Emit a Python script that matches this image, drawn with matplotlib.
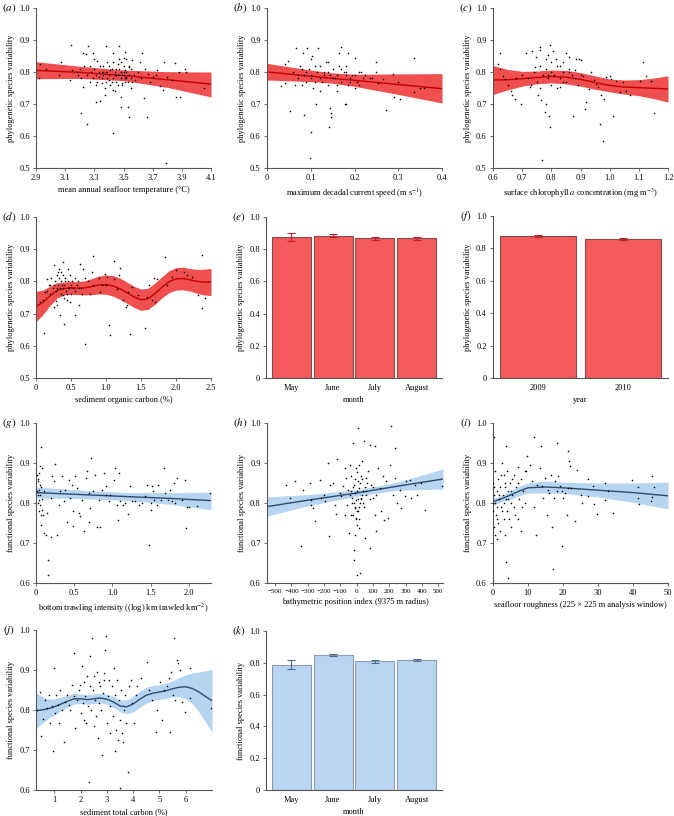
import matplotlib
matplotlib.use('Agg')
import matplotlib.pyplot as plt
from matplotlib.ticker import FuncFormatter

plt.rcParams['font.family'] = ['Liberation Serif', 'DejaVu Serif']
plt.rcParams['mathtext.fontset'] = 'stix'
plt.rcParams['font.size'] = 6

RED_BAND = '#ef4f4f'
RED_LINE = '#c40000'
BLUE_BAND = '#b7d4f1'
BLUE_LINE = '#2c4d70'

# ---- (a) mean annual seafloor temperature ----
a_x = [2.92, 2.93, 2.97, 3.07, 3.06, 3.14, 3.13, 3.15, 3.18, 3.2, 3.21, 3.22, 3.22, 3.24, 3.25, 3.26,
       3.27, 3.29, 3.3, 3.31, 3.32, 3.33, 3.34, 3.35, 3.36, 3.37, 3.38, 3.39, 3.4, 3.41, 3.43, 3.43,
       3.43, 3.45, 3.46, 3.47, 3.48, 3.48, 3.49, 3.5, 3.51, 3.51, 3.52, 3.53, 3.54, 3.54, 3.55, 3.56,
       3.58, 3.61, 3.63, 3.64, 3.66, 3.67, 3.7, 3.73, 3.75, 3.77, 3.78, 3.79, 3.8, 3.83, 3.85, 3.86,
       3.88, 3.89, 3.92, 3.93, 4.05,
       3.31, 3.33, 3.35, 3.36, 3.38, 3.39, 3.4, 3.41, 3.42, 3.43, 3.44, 3.45, 3.46, 3.47, 3.48, 3.48,
       3.49, 3.5, 3.5, 3.51, 3.52, 3.53, 3.54, 3.55, 3.28, 3.27, 3.25, 3.23, 3.21, 3.19, 3.37, 3.44,
       3.47, 3.52, 3.57, 3.6, 3.62, 3.65, 3.68, 3.72,
       3.30, 3.32, 3.34, 3.36, 3.38, 3.40, 3.42, 3.44, 3.46, 3.48, 3.50, 3.52, 3.54, 3.56, 3.31, 3.35,
       3.39, 3.43, 3.47, 3.51, 3.55, 3.29, 3.45, 3.49]
a_y = [0.78, 0.825, 0.81, 0.83, 0.79, 0.885, 0.775, 0.805, 0.8, 0.81, 0.673, 0.858, 0.752, 0.855, 0.638, 0.88,
       0.82, 0.858, 0.84, 0.707, 0.835, 0.785, 0.71, 0.765, 0.8, 0.728, 0.88, 0.83, 0.775, 0.805, 0.61, 0.858,
       0.745, 0.79, 0.825, 0.88, 0.722, 0.69, 0.765, 0.843, 0.864, 0.806, 0.785, 0.69, 0.66, 0.815, 0.75, 0.838,
       0.775, 0.83, 0.858, 0.718, 0.66, 0.795, 0.785, 0.806, 0.755, 0.745, 0.83, 0.515, 0.785, 0.775, 0.827, 0.722,
       0.8, 0.722, 0.81, 0.8, 0.75,
       0.79, 0.8, 0.78, 0.82, 0.77, 0.8, 0.79, 0.76, 0.81, 0.78, 0.8, 0.77, 0.79, 0.81, 0.78, 0.8,
       0.76, 0.79, 0.82, 0.78, 0.8, 0.77, 0.79, 0.81, 0.8, 0.77, 0.79, 0.82, 0.78, 0.79, 0.75, 0.74,
       0.84, 0.84, 0.79, 0.8, 0.78, 0.81, 0.77, 0.79,
       0.81, 0.77, 0.82, 0.79, 0.80, 0.82, 0.77, 0.79, 0.76, 0.83, 0.80, 0.78, 0.82, 0.77, 0.76, 0.80,
       0.78, 0.83, 0.79, 0.77, 0.78, 0.78, 0.81, 0.79]
a_fx = [2.9, 3.2, 3.5, 3.8, 4.1]
a_fit = [0.805, 0.799, 0.789, 0.776, 0.762]
a_hi = [0.832, 0.818, 0.806, 0.801, 0.800]
a_lo = [0.779, 0.780, 0.773, 0.752, 0.722]

# ---- (b) maximum decadal current speed ----
b_x = [0.098, 0.1, 0.085, 0.053, 0.142, 0.146, 0.147, 0.143, 0.113, 0.178, 0.18, 0.273, 0.359, 0.35,
       0.335, 0.303, 0.29, 0.3, 0.254, 0.266, 0.248, 0.25, 0.336, 0.288, 0.033, 0.04, 0.041, 0.048,
       0.067, 0.091, 0.083, 0.103, 0.117, 0.17, 0.164, 0.185, 0.2,
       0.06, 0.07, 0.08, 0.09, 0.1, 0.11, 0.12, 0.13, 0.14, 0.15, 0.16, 0.17, 0.18, 0.19, 0.2, 0.21,
       0.22, 0.065, 0.075, 0.085, 0.095, 0.105, 0.115, 0.125, 0.135, 0.145, 0.155, 0.165, 0.175, 0.185,
       0.195, 0.205, 0.215, 0.225, 0.235, 0.1, 0.12, 0.14, 0.16, 0.18,
       0.07, 0.09, 0.11, 0.13, 0.15, 0.17, 0.19, 0.21, 0.08, 0.12, 0.16, 0.2, 0.24, 0.14, 0.18, 0.1]
b_y = [0.531, 0.614, 0.666, 0.677, 0.627, 0.672, 0.66, 0.688, 0.7, 0.7, 0.7, 0.68, 0.75, 0.75,
       0.736, 0.715, 0.722, 0.77, 0.765, 0.778, 0.8, 0.832, 0.843, 0.793, 0.755, 0.767, 0.824, 0.834,
       0.876, 0.874, 0.86, 0.85, 0.874, 0.878, 0.858, 0.86, 0.843,
       0.8, 0.78, 0.81, 0.77, 0.79, 0.82, 0.78, 0.8, 0.76, 0.81, 0.79, 0.77, 0.8, 0.78, 0.79, 0.76,
       0.78, 0.76, 0.82, 0.79, 0.81, 0.75, 0.8, 0.77, 0.83, 0.79, 0.78, 0.82, 0.8, 0.76,
       0.79, 0.77, 0.8, 0.79, 0.78, 0.84, 0.74, 0.83, 0.74, 0.82,
       0.79, 0.8, 0.77, 0.79, 0.78, 0.81, 0.77, 0.8, 0.76, 0.82, 0.76, 0.75, 0.78, 0.8, 0.79, 0.78]
b_fx = [0, 0.1, 0.15, 0.2, 0.3, 0.4]
b_fit = [0.800, 0.787, 0.780, 0.774, 0.761, 0.748]
b_hi = [0.827, 0.806, 0.797, 0.793, 0.794, 0.795]
b_lo = [0.775, 0.770, 0.765, 0.755, 0.730, 0.703]

# ---- (c) surface chlorophyll a ----
c_x = [0.625, 0.617, 0.623, 0.634, 0.64, 0.651, 0.663, 0.666, 0.674, 0.695, 0.712, 0.726, 0.735, 0.743,
       0.749, 0.754, 0.76, 0.762, 0.766, 0.769, 0.777, 0.783, 0.792, 0.797, 0.794, 0.789, 0.806, 0.817,
       0.829, 0.84, 0.851, 0.86, 0.874, 0.88, 0.886, 0.895, 0.903, 0.909, 0.914, 0.92, 0.929, 0.937,
       0.945, 0.954, 0.96, 0.966, 0.971, 0.977, 0.979, 0.989, 1.0, 1.006, 1.011, 1.023, 1.034, 1.046,
       1.057, 1.069, 1.105, 1.114, 1.126, 1.143, 1.151,
       0.72, 0.74, 0.75, 0.76, 0.77, 0.78, 0.79, 0.8, 0.8, 0.81, 0.82, 0.83, 0.84, 0.85, 0.86, 0.87,
       0.88, 0.89, 0.9, 0.76, 0.78, 0.8, 0.82, 0.84, 0.86, 0.7, 0.68, 0.73, 0.79, 0.83]
c_y = [0.86, 0.826, 0.81, 0.789, 0.779, 0.758, 0.742, 0.727, 0.716, 0.7, 0.86, 0.752, 0.867, 0.815,
       0.847, 0.727, 0.878, 0.87, 0.711, 0.525, 0.674, 0.7, 0.663, 0.627, 0.883, 0.852, 0.867, 0.841,
       0.753, 0.831, 0.859, 0.847, 0.663, 0.805, 0.841, 0.841, 0.836, 0.789, 0.685, 0.706, 0.747, 0.8,
       0.774, 0.763, 0.753, 0.638, 0.727, 0.584, 0.716, 0.784, 0.789, 0.779, 0.664, 0.773, 0.737, 0.768,
       0.742, 0.727, 0.773, 0.831, 0.789, 0.773, 0.672,
       0.78, 0.8, 0.77, 0.82, 0.79, 0.81, 0.78, 0.8, 0.76, 0.79, 0.82, 0.78, 0.8, 0.77, 0.81, 0.79,
       0.78, 0.76, 0.79, 0.75, 0.84, 0.83, 0.75, 0.77, 0.8, 0.79, 0.78, 0.76, 0.79, 0.82]
c_fx = [0.6, 0.65, 0.7, 0.75, 0.8, 0.85, 0.9, 0.95, 1.0, 1.05, 1.1, 1.15, 1.2]
c_fit = [0.775, 0.776, 0.779, 0.783, 0.786, 0.784, 0.777, 0.767, 0.758, 0.753, 0.751, 0.749, 0.747]
c_hi = [0.820, 0.808, 0.802, 0.803, 0.806, 0.805, 0.798, 0.788, 0.778, 0.775, 0.776, 0.781, 0.788]
c_lo = [0.730, 0.744, 0.756, 0.763, 0.766, 0.763, 0.756, 0.746, 0.738, 0.731, 0.726, 0.717, 0.706]

# ---- (d) sediment organic carbon ----
d_x = [0.11, 0.705, 0.395, 0.348, 1.04, 1.06, 1.34, 1.56, 0.81, 1.11, 1.84, 2.37, 2.37, 2.42, 2.32,
       2.23, 2.16, 2.11, 2.0, 1.94, 1.87, 1.73, 1.68, 1.66, 1.7, 1.59, 1.61, 1.45, 1.37, 1.32, 1.3, 1.28,
       1.24, 1.2, 1.18, 1.16, 1.12, 1.01, 0.98, 1.0, 0.92, 0.94, 0.9, 0.82, 0.8, 0.77, 0.74, 0.7, 0.67,
       0.63, 0.64, 0.61, 0.56, 0.49, 0.44, 0.39, 0.3, 0.25, 0.2, 0.16, 0.13, 0.1, 0.06,
       0.15, 0.18, 0.2, 0.22, 0.24, 0.25, 0.27, 0.28, 0.3, 0.3, 0.32, 0.33, 0.35, 0.35, 0.36, 0.38,
       0.38, 0.4, 0.4, 0.42, 0.43, 0.45, 0.45, 0.47, 0.48, 0.5, 0.5, 0.52, 0.53, 0.55, 0.56, 0.58, 0.6,
       0.62, 0.65, 0.28, 0.33, 0.37, 0.41, 0.46, 0.31, 0.26, 0.44, 0.39, 0.34]
d_y = [0.641, 0.607, 0.669, 0.695, 0.666, 0.635, 0.638, 0.655, 0.879, 0.862, 0.875, 0.881, 0.717, 0.748, 0.759,
       0.814, 0.819, 0.829, 0.834, 0.814, 0.788, 0.808, 0.811, 0.741, 0.736, 0.752, 0.788, 0.757, 0.783, 0.767, 0.726, 0.722,
       0.741, 0.843, 0.819, 0.777, 0.808, 0.814, 0.824, 0.788, 0.767, 0.79, 0.811, 0.788, 0.829, 0.762, 0.8, 0.811, 0.84,
       0.855, 0.78, 0.726, 0.695, 0.736, 0.741, 0.757, 0.726, 0.72, 0.788, 0.808, 0.767, 0.741, 0.736,
       0.77, 0.79, 0.76, 0.81, 0.78, 0.85, 0.8, 0.74, 0.82, 0.78, 0.79, 0.84, 0.8, 0.76, 0.83, 0.78,
       0.86, 0.79, 0.75, 0.81, 0.77, 0.8, 0.84, 0.78, 0.82, 0.79, 0.76, 0.8, 0.78, 0.81, 0.77, 0.79, 0.8,
       0.78, 0.76, 0.77, 0.81, 0.79, 0.8, 0.78, 0.83, 0.79, 0.76, 0.82, 0.78]
d_fx = [0, 0.1, 0.2, 0.3, 0.4, 0.5, 0.6, 0.7, 0.8, 0.9, 1.0, 1.1, 1.2, 1.3, 1.4, 1.5, 1.6, 1.7, 1.8,
        1.9, 2.0, 2.1, 2.2, 2.3, 2.4, 2.5]
d_fit = [0.722, 0.735, 0.755, 0.772, 0.778, 0.78, 0.779, 0.78, 0.784, 0.789, 0.79, 0.786, 0.777, 0.765,
         0.752, 0.743, 0.746, 0.762, 0.782, 0.799, 0.808, 0.809, 0.805, 0.8, 0.798, 0.798]
d_hw = [0.047, 0.038, 0.03, 0.024, 0.02, 0.02, 0.02, 0.022, 0.025, 0.028, 0.03, 0.032, 0.033, 0.033,
        0.033, 0.033, 0.033, 0.033, 0.033, 0.034, 0.035, 0.035, 0.035, 0.037, 0.04, 0.042]

# ---- (e) month, phylogenetic ----
e_cat = ['May', 'June', 'July', 'August']
e_val = [0.876, 0.884, 0.867, 0.867]
e_err = [0.025, 0.008, 0.008, 0.008]

# ---- (f) year ----
f_cat = ['2009', '2010']
f_val = [0.878, 0.858]
f_err = [0.005, 0.008]

# ---- (g) bottom trawling intensity ----
g_x = [0.07, 0.05, 0.08, 0.035, 0.013, 0.02, 0.057, 0.035, 0.022, 0.044, 0.057, 0.08, 0.066, 0.07, 0.11,
       0.13, 0.157, 0.157, 0.19, 0.144, 0.2, 0.21, 0.25, 0.23, 0.275, 0.3, 0.32, 0.34, 0.36, 0.38, 0.41,
       0.43, 0.45, 0.47, 0.485, 0.49, 0.515, 0.54, 0.56, 0.57, 0.6, 0.625, 0.65, 0.67, 0.69, 0.7, 0.71,
       0.725, 0.747, 0.77, 0.8, 0.82, 0.84, 0.865, 0.886, 0.91, 0.92, 0.95, 0.97, 1.02, 1.04, 1.06, 1.07,
       1.08, 1.105, 1.14, 1.17, 1.2, 1.23, 1.26, 1.3, 1.345, 1.39, 1.43, 1.455, 1.476, 1.5, 1.51, 1.52,
       1.53, 1.55, 1.585, 1.6, 1.63, 1.67, 1.69, 1.73, 1.76, 1.78, 1.8, 1.825, 1.85, 1.91, 1.95, 1.96,
       1.98, 2.0, 2.11, 2.28,
       0.01, 0.02, 0.03, 0.04, 0.05, 0.06, 0.08, 0.09, 0.1]
g_y = [0.94, 0.892, 0.888, 0.875, 0.871, 0.854, 0.846, 0.833, 0.821, 0.808, 0.796, 0.783, 0.771, 0.746, 0.725,
       0.721, 0.658, 0.619, 0.714, 0.775, 0.813, 0.867, 0.898, 0.854, 0.721, 0.796, 0.829, 0.867, 0.804, 0.833, 0.752,
       0.858, 0.813, 0.846, 0.779, 0.743, 0.867, 0.838, 0.775, 0.767, 0.808, 0.729, 0.863, 0.879, 0.825, 0.752, 0.788,
       0.9125, 0.829, 0.871, 0.739, 0.808, 0.739, 0.833, 0.875, 0.821, 0.842, 0.806, 0.821, 0.858, 0.8875, 0.796, 0.758,
       0.875, 0.806, 0.796, 0.8, 0.7725, 0.842, 0.804, 0.804, 0.796, 0.8, 0.817, 0.846, 0.696, 0.8, 0.783, 0.842,
       0.829, 0.808, 0.796, 0.846, 0.808, 0.8875, 0.825, 0.808, 0.833, 0.804, 0.85, 0.8, 0.8625, 0.808, 0.858, 0.7375,
       0.79, 0.79, 0.793, 0.825,
       0.83, 0.8, 0.86, 0.78, 0.82, 0.84, 0.81, 0.77, 0.83]
g_fx = [0, 0.6, 1.2, 1.8, 2.29]
g_fit = [0.826, 0.821, 0.816, 0.811, 0.806]
g_hi = [0.840, 0.832, 0.826, 0.826, 0.827]
g_lo = [0.813, 0.811, 0.806, 0.796, 0.783]

# ---- (h) bathymetric position index ----
h_x = [-431, -380, -407, -343, -329, -288, -282, -278, -268, -253, -227, -217, -200, -196, -176, -172,
       -166, -145, -135, -125, -119, -104, -94, -84, -73, -69, -63, -57, -53, -47, -43, -37, -33, -29,
       -22, -18, -16, -16, -12, -10, -8, -6, -4, -2, 0, 2, 4, 6, 8, 10, 12, 14, 16, 18, 22, 24, 29, 33,
       39, 45, 49, 55, 59, 70, 80, 84, 90, 100, 110, 115, 121, 131, 141, 151, 162, 168, 182, 192, 203,
       213, 223, 233, 237, 250, 264, 274, 294, 305, 325, 335, 356, 372, 397, 417, 524,
       -40, -30, -20, -10, 0, 10, 20, 30, 40, 50, -25, -5, 15, 35, 60, 80, 100, 120,
       -15, -8, 5, 12, 25, -35, 45, 65]
h_y = [0.846, 0.854, 0.8125, 0.693, 0.833, 0.85, 0.808, 0.796, 0.7875, 0.754, 0.858, 0.8125, 0.821, 0.804, 0.9, 0.717,
       0.846, 0.85, 0.796, 0.7725, 0.91, 0.825, 0.817, 0.842, 0.771, 0.8875, 0.8625, 0.796, 0.833, 0.725, 0.896, 0.771, 0.867, 0.8125,
       0.95, 0.844, 0.683, 0.658, 0.7875, 0.825, 0.721, 0.8875, 0.7625, 0.808, 0.8775, 0.621, 0.746, 0.854, 0.9875, 0.779, 0.838, 0.896, 0.7375, 0.8, 0.625, 0.8667, 0.8125, 0.904,
       0.829, 0.954, 0.7125, 0.8625, 0.821, 0.879, 0.6875, 0.946, 0.846, 0.8125, 0.942, 0.771, 0.729, 0.8875, 0.8375, 0.779, 0.867, 0.758, 0.854, 0.7625, 0.896,
       0.992, 0.821, 0.8625, 0.9375, 0.8, 0.833, 0.7875, 0.817, 0.854, 0.858, 0.8125, 0.846, 0.821, 0.85, 0.783, 0.842,
       0.82, 0.8, 0.84, 0.79, 0.83, 0.81, 0.85, 0.82, 0.8, 0.84, 0.77, 0.76, 0.79, 0.86, 0.83, 0.81, 0.84, 0.82,
       0.8, 0.86, 0.78, 0.76, 0.81, 0.83, 0.79, 0.85]
h_fx = [-550, -300, 0, 250, 530]
h_fit = [0.791, 0.807, 0.825, 0.842, 0.860]
h_hi = [0.815, 0.821, 0.833, 0.852, 0.885]
h_lo = [0.767, 0.793, 0.817, 0.832, 0.835]

# ---- (i) seafloor roughness ----
i_x = [0.2, 3.8, 3.8, 4.2, 11.8, 13.7, 18.4, 17.1, 19.7, 21.5, 21.7, 22, 23.5, 23.9, 25, 25.3, 27.1,
       27.2, 28.7, 28.9, 29.6, 32, 32, 32.9, 34.2, 39.6, 41.3, 41.7, 41.5, 45.5, 45.9, 45.2, 45.5,
       9.2, 9.7, 10.6, 11.1, 11.6, 12.3, 12.7, 13.3, 13.9, 14.4, 14.9, 15.4, 15.8, 16.1, 16.5, 16.8,
       17.3, 17.7, 18.2, 18.7, 19.2, 19.6, 20.1, 20.6, 21.1, 21.5, 22.2,
       0, 0, 0.2, 0.3, 0.5, 0.5, 0.8, 1, 1, 1.2, 1.5, 1.5, 1.8, 2, 2, 2.3, 2.5, 2.8, 3, 3, 3.2, 3.5,
       3.5, 3.8, 4, 4, 4.3, 4.5, 4.8, 5, 5, 5.3, 5.5, 6, 6, 6.5, 7, 7, 7.5, 8, 8, 8.5, 9, 9.5, 0.1,
       0.4, 0.7, 1.1, 1.6, 2.2, 2.7, 3.3, 4.2, 5.2, 6.2, 7.2, 8.2]
i_y = [0.964, 0.943, 0.6525, 0.613, 0.964, 0.943, 0.95, 0.635, 0.692, 0.931, 0.904, 0.892, 0.756, 0.883, 0.821, 0.8, 0.86,
       0.817, 0.842, 0.7975, 0.7725, 0.85, 0.808, 0.831, 0.775, 0.858, 0.839, 0.7975, 0.8125, 0.867, 0.839, 0.804, 0.814,
       0.879, 0.917, 0.896, 0.854, 0.79, 0.721, 0.846, 0.8875, 0.842, 0.8125, 0.8625, 0.771, 0.833, 0.825, 0.871, 0.739,
       0.8125, 0.854, 0.829, 0.867, 0.842, 0.829, 0.8125, 0.825, 0.771, 0.8375, 0.8375,
       0.85, 0.78, 0.82, 0.74, 0.88, 0.8, 0.77, 0.83, 0.71, 0.79, 0.86, 0.75, 0.81, 0.73, 0.84, 0.79, 0.9, 0.82, 0.76, 0.87, 0.8, 0.72,
       0.84, 0.81, 0.78, 0.88, 0.83, 0.76, 0.85, 0.8, 0.74, 0.86, 0.82, 0.79, 0.87, 0.84, 0.76, 0.89, 0.81, 0.73, 0.86, 0.83, 0.8, 0.88, 0.8,
       0.84, 0.72, 0.76, 0.82, 0.87, 0.78, 0.85, 0.81, 0.83, 0.77, 0.85, 0.79]
i_fx = [0, 2.5, 5, 7.5, 10, 15, 20, 30, 40, 50]
i_fit = [0.803, 0.811, 0.820, 0.830, 0.838, 0.840, 0.838, 0.832, 0.826, 0.818]
i_hi = [0.811, 0.819, 0.830, 0.842, 0.850, 0.855, 0.852, 0.850, 0.850, 0.852]
i_lo = [0.795, 0.803, 0.810, 0.818, 0.825, 0.825, 0.824, 0.815, 0.802, 0.785]

# ---- (j) sediment total carbon ----
j_x = [0.34, 0.44, 0.49, 0.55, 0.66, 0.72, 0.78, 0.85, 0.91, 0.95, 1.0, 1.04, 1.08, 1.13, 1.16, 1.23,
       1.29, 1.35, 1.42, 1.48, 1.55, 1.61, 1.67, 1.74, 1.76, 1.8, 1.86, 1.93, 1.99, 2.03, 2.05, 2.09,
       2.12, 2.14, 2.18, 2.22, 2.24, 2.27, 2.31, 2.35, 2.37, 2.4, 2.43, 2.46, 2.5, 2.52, 2.56, 2.59,
       2.63, 2.65, 2.69, 2.71, 2.75, 2.78, 2.82, 2.84, 2.88, 2.9, 2.94, 2.98, 3.01, 3.03, 3.07, 3.1,
       3.13, 3.2, 3.24, 3.26, 3.3, 3.32, 3.36, 3.39, 3.43, 3.45, 3.49, 3.51, 3.54, 3.58, 3.62, 3.64,
       3.68, 3.74, 3.79, 3.83, 3.9, 3.96, 4.02, 4.09, 4.15, 4.28, 4.51, 4.6, 4.72, 4.85, 4.91, 5.01,
       5.1, 5.17, 5.29, 5.36, 5.4, 5.45, 5.52, 5.57, 5.61, 5.67, 5.71, 5.8, 5.87, 5.99, 6.16, 6.18, 6.97]
j_y = [0.8, 0.846, 0.734, 0.777, 0.825, 0.805, 0.838, 0.767, 0.809, 0.697, 0.904, 0.792, 0.838, 0.813, 0.767, 0.85,
       0.8, 0.721, 0.821, 0.838, 0.813, 0.8, 0.863, 0.942, 0.834, 0.755, 0.825, 0.85, 0.863, 0.792, 0.909, 0.817,
       0.871, 0.776, 0.834, 0.767, 0.884, 0.809, 0.619, 0.859, 0.934, 0.8, 0.979, 0.85, 0.759, 0.884, 0.825, 0.784,
       0.896, 0.73, 0.871, 0.817, 0.859, 0.8, 0.687, 0.842, 0.892, 0.875, 0.95, 0.985, 0.767, 0.834, 0.875, 0.742,
       0.809, 0.859, 0.784, 0.904, 0.697, 0.838, 0.751, 0.875, 0.726, 0.825, 0.776, 0.605, 0.85, 0.742, 0.721, 0.8,
       0.838, 0.767, 0.644, 0.859, 0.875, 0.817, 0.767, 0.838, 0.859, 0.88, 0.921, 0.85, 0.825, 0.746, 0.8, 0.871,
       0.776, 0.85, 0.859, 0.88, 0.746, 0.896, 0.838, 0.979, 0.825, 0.925, 0.917, 0.9, 0.821, 0.796, 0.905, 0.83, 0.805]
j_fx = [0.3, 0.5, 0.75, 1.0, 1.25, 1.5, 1.75, 2.0, 2.25, 2.5, 2.75, 3.0, 3.25, 3.5, 3.75, 4.0, 4.25,
        4.5, 4.75, 5.0, 5.25, 5.5, 5.75, 6.0, 6.25, 6.5, 6.75, 7.0]
j_fit = [0.798, 0.8, 0.803, 0.808, 0.815, 0.822, 0.828, 0.828, 0.826, 0.828, 0.83, 0.827, 0.82, 0.81,
         0.808, 0.815, 0.827, 0.837, 0.842, 0.845, 0.848, 0.853, 0.857, 0.858, 0.854, 0.845, 0.834, 0.823]
j_hw = [0.045, 0.035, 0.025, 0.02, 0.017, 0.015, 0.013, 0.012, 0.012, 0.012, 0.012, 0.013, 0.014, 0.015,
        0.017, 0.02, 0.02, 0.02, 0.019, 0.018, 0.019, 0.02, 0.024, 0.03, 0.038, 0.05, 0.064, 0.078]

# ---- (k) month, functional ----
k_cat = ['May', 'June', 'July', 'August']
k_val = [0.789, 0.849, 0.81, 0.818]
k_err = [0.028, 0.009, 0.01, 0.008]


W, H = 674, 816
fig = plt.figure(figsize=(W / 100, H / 100), dpi=100)


def px_axes(left, top, right, bottom):
    return fig.add_axes([left / W, 1 - bottom / H, (right - left) / W, (bottom - top) / H])


def fmt1(v, pos):
    if abs(v) < 1e-9:
        return '0'
    return '%.1f' % v


def fmt_int(v, pos):
    return '%d' % round(v) if v >= 0 else '\u2212%d' % round(-v)


def style(ax, rect, ylabel, xlabel, letter):
    for s in ['top', 'right']:
        ax.spines[s].set_visible(False)
    for s in ['left', 'bottom']:
        ax.spines[s].set_color('#555555')
        ax.spines[s].set_linewidth(0.8)
    ax.tick_params(length=2.5, width=0.6, color='#555555', labelsize=6, pad=2)
    ax.set_ylabel(ylabel, fontsize=6, labelpad=3)
    ax.set_xlabel(xlabel, fontsize=6, labelpad=3)
    # panel letter, left of the 1.0 tick label
    fig.text((rect[0] - 27) / W, 1 - rect[1] / H, r'$(\mathit{' + letter + '})$',
             fontsize=8, ha='center', va='center')


def scatter_panel(rect, xs, ys, fx, fit, lo, hi, band, line, xlim, ylim, xticks, yticks,
                  xfmt, ylabel, xlabel, letter):
    ax = px_axes(*rect)
    ax.fill_between(fx, lo, hi, color=band, lw=0, zorder=1)
    ax.plot(fx, fit, color=line, lw=1.0, zorder=2)
    ax.scatter(xs, ys, s=1.3, c='black', lw=0, zorder=3)
    ax.set_xlim(*xlim)
    ax.set_ylim(*ylim)
    ax.set_xticks(xticks)
    ax.set_yticks(yticks)
    ax.xaxis.set_major_formatter(FuncFormatter(xfmt))
    ax.yaxis.set_major_formatter(FuncFormatter(fmt1))
    style(ax, rect, ylabel, xlabel, letter)
    return ax


def bar_panel(rect, cats, vals, errs, face, edge, ecol, xlim, width, ylabel, xlabel, letter):
    ax = px_axes(*rect)
    pos = list(range(len(cats)))
    ax.bar(pos, vals, width=width, color=face, edgecolor=edge, linewidth=0.8)
    ax.errorbar(pos, vals, yerr=errs, fmt='none', ecolor=ecol, elinewidth=0.8, capsize=3,
                capthick=0.8)
    ax.set_xlim(*xlim)
    ax.set_ylim(0, 1.0)
    ax.set_xticks(pos)
    ax.set_xticklabels(cats)
    ax.set_yticks([0, 0.2, 0.4, 0.6, 0.8, 1.0])
    ax.yaxis.set_major_formatter(FuncFormatter(fmt1))
    style(ax, rect, ylabel, xlabel, letter)
    ax.tick_params(axis='x', length=0, pad=4)
    return ax


phy = 'phylogenetic species variability'
fun = 'functional species variability'
y5 = [0.5, 0.6, 0.7, 0.8, 0.9, 1.0]
y6 = [0.6, 0.7, 0.8, 0.9, 1.0]

scatter_panel((36, 8, 211, 168), a_x, a_y, a_fx, a_fit, a_lo, a_hi, RED_BAND, RED_LINE,
              (2.9, 4.1), (0.5, 1.0), [2.9, 3.1, 3.3, 3.5, 3.7, 3.9, 4.1], y5, fmt1, phy,
              'mean annual seafloor temperature (°C)', 'a')
scatter_panel((267, 8, 442, 168), b_x, b_y, b_fx, b_fit, b_lo, b_hi, RED_BAND, RED_LINE,
              (0, 0.4), (0.5, 1.0), [0, 0.1, 0.2, 0.3, 0.4], y5, fmt1, phy,
              'maximum decadal current speed (m s$^{-1}$)', 'b')
scatter_panel((493, 8, 668, 168), c_x, c_y, c_fx, c_fit, c_lo, c_hi, RED_BAND, RED_LINE,
              (0.6, 1.2), (0.5, 1.0), [0.6, 0.7, 0.8, 0.9, 1.0, 1.1, 1.2], y5, fmt1, phy,
              'surface chlorophyll $a$ concentration (mg m$^{-3}$)', 'c')

d_lo = [f - h for f, h in zip(d_fit, d_hw)]
d_hi = [f + h for f, h in zip(d_fit, d_hw)]
scatter_panel((36, 217, 211, 378), d_x, d_y, d_fx, d_fit, d_lo, d_hi, RED_BAND, RED_LINE,
              (0, 2.5), (0.5, 1.0), [0, 0.5, 1.0, 1.5, 2.0, 2.5], y5, fmt1, phy,
              'sediment organic carbon (%)', 'd')
bar_panel((266, 217, 442, 378), e_cat, e_val, e_err, '#f25a5c', '#8a4a4a', '#c81e2a',
          (-0.6, 3.6), 0.93, phy, 'month', 'e')
bar_panel((493, 216, 668, 378), f_cat, f_val, f_err, '#f25a5c', '#8a4a4a', '#c81e2a',
          (-0.535, 1.535), 0.9, phy, 'year', 'f')

scatter_panel((36, 423, 211, 583), g_x, g_y, g_fx, g_fit, g_lo, g_hi, BLUE_BAND, BLUE_LINE,
              (0, 2.29), (0.6, 1.0), [0, 0.5, 1.0, 1.5, 2.0], y6, fmt1, fun,
              'bottom trawling intensity ((log) km trawled km$^{-2}$)', 'g')
ax_h = scatter_panel((267, 423, 443, 583), h_x, h_y, h_fx, h_fit, h_lo, h_hi, BLUE_BAND, BLUE_LINE,
                     (-550, 530), (0.6, 1.0), list(range(-500, 501, 100)), y6, fmt_int, fun,
                     'bathymetric position index (9375 m radius)', 'h')
ax_h.tick_params(axis='x', labelsize=5)
scatter_panel((493, 423, 668, 583), i_x, i_y, i_fx, i_fit, i_lo, i_hi, BLUE_BAND, BLUE_LINE,
              (0, 50), (0.6, 1.0), [0, 10, 20, 30, 40, 50], y6, fmt_int, fun,
              'seafloor roughness (225 × 225 m analysis window)', 'i')

j_lo = [f - h for f, h in zip(j_fit, j_hw)]
j_hi = [f + h for f, h in zip(j_fit, j_hw)]
scatter_panel((36, 630, 212, 790), j_x, j_y, j_fx, j_fit, j_lo, j_hi, BLUE_BAND, BLUE_LINE,
              (0.3, 7.0), (0.6, 1.0), [1, 2, 3, 4, 5, 6], y6, fmt_int, fun,
              'sediment total carbon (%)', 'j')
bar_panel((266, 631, 442, 790), k_cat, k_val, k_err, '#b9d5f2', '#8f9cab', '#4a6a90',
          (-0.6, 3.6), 0.93, fun, 'month', 'k')

fig.savefig('out.png', dpi=100, facecolor='white')
